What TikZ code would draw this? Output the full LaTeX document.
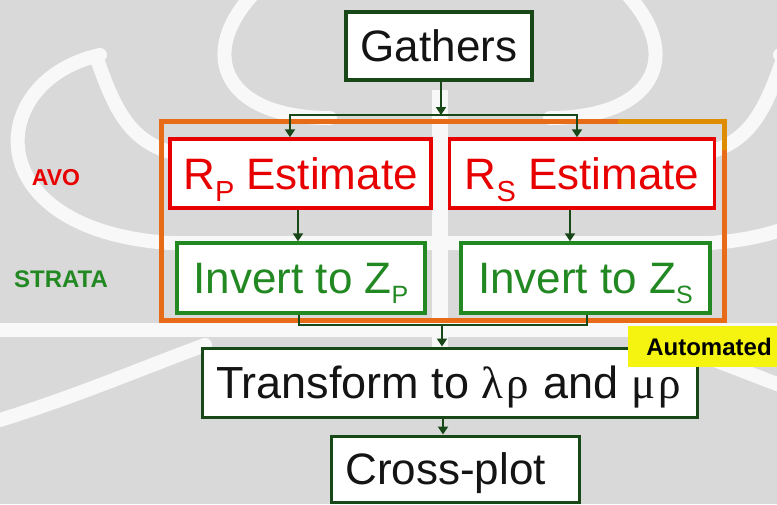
\documentclass[tikz,border=0pt]{standalone}
\usepackage{fontspec}
\setmainfont{Liberation Sans}
\newfontfamily\greekfont{Liberation Serif}
\usetikzlibrary{arrows.meta}

\definecolor{wmgray}{RGB}{217,217,217}
\definecolor{wmlight}{RGB}{248,248,248}
\definecolor{dkgreen}{RGB}{24,72,24}
\definecolor{boxred}{RGB}{232,0,0}
\definecolor{boxgreen}{RGB}{34,136,34}
\definecolor{frameorange}{RGB}{232,108,24}
\definecolor{frameamber}{RGB}{222,140,0}
\definecolor{tagyellow}{RGB}{244,244,16}
\definecolor{ink}{RGB}{20,20,20}

\begin{document}
\begin{tikzpicture}[x=1pt,y=-1pt,
  wm/.style={wmlight, line width=14pt, line cap=round},
  box/.style={draw, fill=white, inner sep=0pt, text height=31.5pt, text depth=0pt,
    font=\fontsize{44}{50}\selectfont},
  blackbox/.style={box, draw=dkgreen, text=ink},
  redbox/.style={box, draw=boxred, text=boxred, line width=3.5pt},
  greenbox/.style={box, draw=boxgreen, text=boxgreen, line width=3.5pt},
  conn/.style={draw=dkgreen, line width=2pt},
  arr/.style={conn, -{Triangle[width=10pt,length=8pt]}},
  side/.style={font=\bfseries\fontsize{23}{26}\selectfont, inner sep=0pt},
]
\useasboundingbox (0,0) rectangle (777,504);

% watermark background
\fill[wmgray] (0,0) rectangle (777,504);
\foreach \s in {1,-1}{
  \begin{scope}[xshift=440pt, xscale=\s, xshift=-440pt]
    \draw[wm] (100,55) .. controls (-15,80) and (-25,230) .. (170,243) -- (440,243);
    \draw[wm] (98,62) .. controls (115,110) and (130,140) .. (170,152);
    \draw[wm] (255,-8) .. controls (195,55) and (225,118) .. (330,118);
    \draw[wm] (0,330) -- (440,330);
    \draw[wm] (0,420) .. controls (80,395) and (150,365) .. (205,345);
  \end{scope}
}
\draw[wm, line width=16pt, line cap=butt] (440,90) -- (440,360);

% grouping frame
\draw[frameorange, line width=5pt] (161.5,121) rectangle (724,320);
\draw[frameamber, line width=5pt] (618,121) -| (724,150);

% boxes
\node[blackbox, line width=4pt, minimum width=186pt, minimum height=68pt] (gathers) at (439,46) {Gathers};
\node[redbox, minimum width=261pt, minimum height=69pt] (rp) at (300.5,173.5)
  {R\raisebox{-12pt}{\fontsize{29}{29}\selectfont P} Estimate};
\node[redbox, minimum width=265pt, minimum height=69pt] (rs) at (582,173.5)
  {R\raisebox{-12pt}{\fontsize{29}{29}\selectfont S} Estimate};
\node[greenbox, minimum width=248pt, minimum height=70pt] (zp) at (301,278)
  {Invert to Z\raisebox{-10pt}{\fontsize{25}{25}\selectfont P}};
\node[greenbox, minimum width=249pt, minimum height=70pt] (zs) at (585.5,278)
  {Invert to Z\raisebox{-10pt}{\fontsize{25}{25}\selectfont S}};
\node[blackbox, line width=3pt, minimum width=495pt, minimum height=69pt,
  font=\fontsize{45}{50}\selectfont] (transform) at (449.5,382.5)
  {Transform to {\greekfont λ\kern3ptρ\kern2pt} and {\greekfont μ\kern3ptρ\kern2pt}};
\node[blackbox, line width=3pt, minimum width=248pt, minimum height=66pt] (cross) at (455,469)
  {Cross-plot\hspace*{19pt}};

% tag over the top-right corner of the transform box
\node[fill=tagyellow, inner sep=0pt, minimum width=149pt, minimum height=41pt,
  text height=17pt, text depth=0pt, font=\bfseries\fontsize{24}{26}\selectfont, text=black]
  (auto) at (702.5,346.5) {\hspace*{13pt}Automated};

% side labels
\node[side, text=boxred] (avo) at (56,177.5) {AVO};
\node[side, text=boxgreen, font=\bfseries\fontsize{24}{26}\selectfont] (strata) at (61,279) {STRATA};

% connectors
\coordinate (split) at (441,115);
\coordinate (merge) at (442,325);
\draw[arr] (gathers.south -| split) -- (split);
\draw[arr] (split) -| ([xshift=-10.5pt]rp.north);
\draw[arr] (split) -| ([xshift=-5pt]rs.north);
\draw[arr] ([xshift=-2.5pt]rp.south) -- ([xshift=-2.5pt]rp.south |- zp.north);
\draw[arr] ([xshift=-12pt]rs.south) -- ([xshift=-12pt]rs.south |- zs.north);
\draw[conn] ([xshift=-2pt]zp.south) |- (merge);
\draw[conn] ([xshift=1.5pt]zs.south) |- (merge);
\draw[arr] (merge) -- (merge |- transform.north);
\draw[arr] ([xshift=-6.5pt]transform.south) -- ([xshift=-6.5pt]transform.south |- cross.north);
\end{tikzpicture}
\end{document}
